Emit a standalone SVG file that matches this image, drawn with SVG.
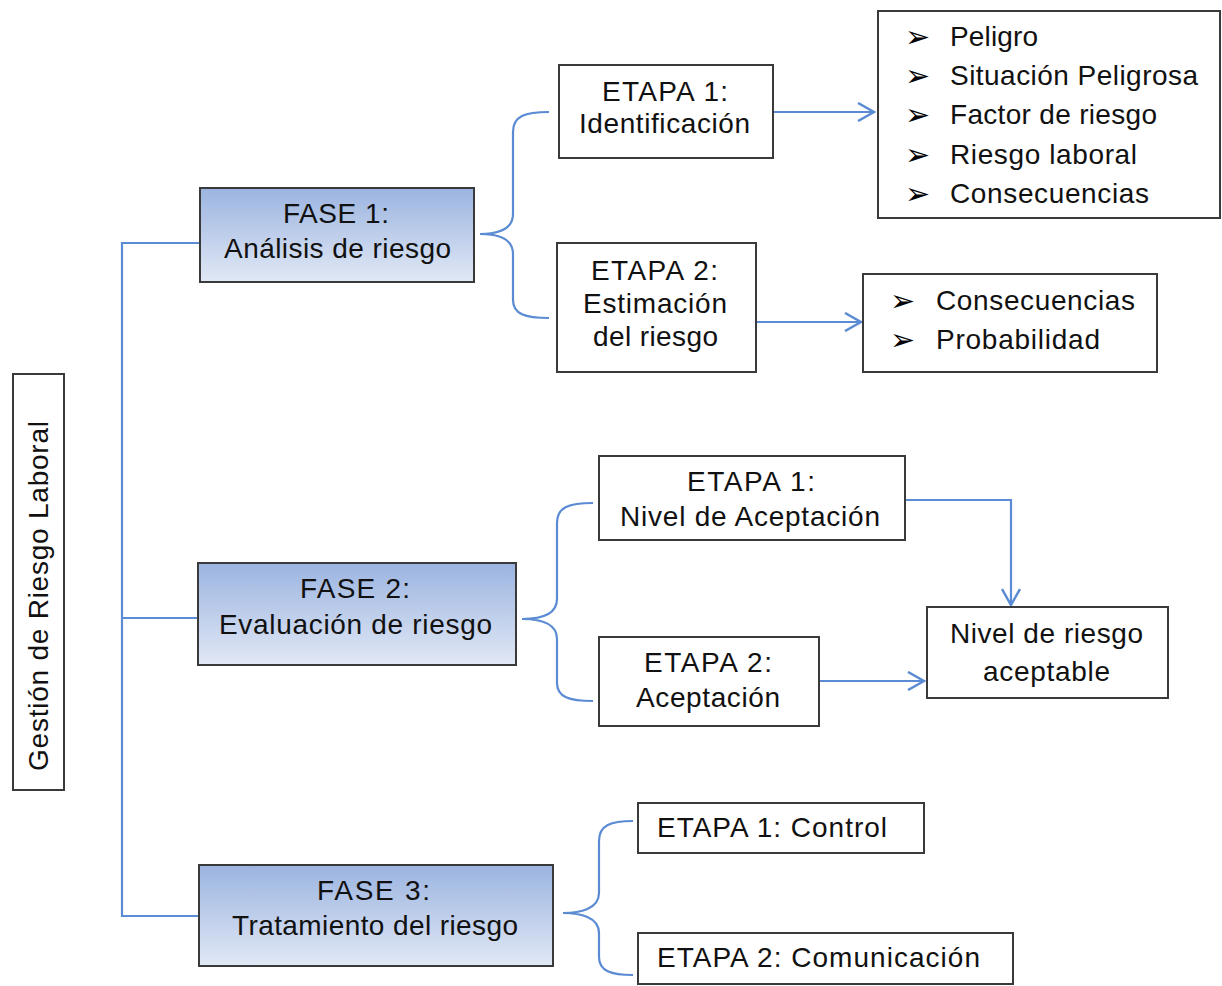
<svg xmlns="http://www.w3.org/2000/svg" width="1222" height="986" viewBox="0 0 1222 986">
<style>
text{font-family:"Liberation Sans",Arial,sans-serif;font-size:28px;fill:#111}
.c{text-anchor:middle}
.fase{stroke:#3a3a3a;stroke-width:2;fill:url(#g)}
.box{stroke:#3a3a3a;stroke-width:2;fill:#fff}
.ln{fill:none;stroke:#5b8bd3;stroke-width:2.2}
.bl{font-family:"DejaVu Sans",sans-serif;font-size:30px;fill:#000}
</style>
<defs>
<linearGradient id="g" x1="0" y1="0" x2="0" y2="1">
<stop offset="0" stop-color="#9bb4e0"/>
<stop offset="1" stop-color="#e1e8f5"/>
</linearGradient>
<marker id="ar" viewBox="0 0 20 20" refX="18" refY="10" markerUnits="userSpaceOnUse" markerWidth="20" markerHeight="20" orient="auto">
<path d="M2,1 L18,10 L2,19" fill="none" stroke="#5b8bd3" stroke-width="2.5"/>
</marker>
</defs>
<rect width="1222" height="986" fill="#fff"/>
<g id="connectors">
<path class="ln" d="M200,243 H122 V916 H200"/>
<path class="ln" d="M122,618 H198"/>
<path class="ln" d="M549,112 C525,112 513,116 513,132 L513,214 C513,230 496,234 480,234 C496,234 513,238 513,254 L513,300 C513,314 525,318 549,318"/>
<path class="ln" d="M593,503 C569,503 557,507 557,523 L557,599 C557,615 539,619 522,619 C539,619 557,623 557,639 L557,683 C557,697 569,701 593,701"/>
<path class="ln" d="M633,821 C611,821 599,825 599,841 L599,893 C599,909 580,913 563,913 C580,913 599,917 599,933 L599,957 C599,971 611,975 633,975"/>
<path class="ln" d="M774,112 H874" marker-end="url(#ar)"/>
<path class="ln" d="M757,322 H861" marker-end="url(#ar)"/>
<path class="ln" d="M905,500 H1011 V605" marker-end="url(#ar)"/>
<path class="ln" d="M819,681 H924" marker-end="url(#ar)"/>
</g>
<g id="root">
<rect class="box" x="13" y="374" width="51" height="416"/>
<text class="c" transform="translate(48,596) rotate(-90)" textLength="350" lengthAdjust="spacing">Gestión de Riesgo Laboral</text>
</g>
<g id="fase1">
<rect class="fase" x="200" y="188" width="274" height="94"/>
<text class="c" x="336" y="223" textLength="106" lengthAdjust="spacing">FASE 1:</text>
<text class="c" x="337.5" y="258" textLength="227" lengthAdjust="spacing">Análisis de riesgo</text>
</g>
<g id="f1e1">
<rect class="box" x="559" y="65" width="214" height="93"/>
<text class="c" x="665" y="101" textLength="126" lengthAdjust="spacing">ETAPA 1:</text>
<text class="c" x="664.5" y="133" textLength="171" lengthAdjust="spacing">Identificación</text>
</g>
<g id="f1e2">
<rect class="box" x="557" y="243" width="199" height="129"/>
<text class="c" x="654.5" y="280" textLength="127" lengthAdjust="spacing">ETAPA 2:</text>
<text class="c" x="655" y="313" textLength="144" lengthAdjust="spacing">Estimación</text>
<text class="c" x="655.5" y="346" textLength="125" lengthAdjust="spacing">del riesgo</text>
</g>
<g id="list1">
<rect class="box" x="878" y="11" width="342" height="207"/>
<text class="bl" x="905" y="47">➢</text>
<text class="bl" x="905" y="86">➢</text>
<text class="bl" x="905" y="125">➢</text>
<text class="bl" x="905" y="165">➢</text>
<text class="bl" x="905" y="204">➢</text>
<text x="950" y="46" textLength="88" lengthAdjust="spacing">Peligro</text>
<text x="950" y="85" textLength="248" lengthAdjust="spacing">Situación Peligrosa</text>
<text x="950" y="124" textLength="207" lengthAdjust="spacing">Factor de riesgo</text>
<text x="950" y="164" textLength="187" lengthAdjust="spacing">Riesgo laboral</text>
<text x="950" y="203" textLength="199" lengthAdjust="spacing">Consecuencias</text>
</g>
<g id="list2">
<rect class="box" x="863" y="274" width="294" height="98"/>
<text class="bl" x="890" y="311">➢</text>
<text class="bl" x="890" y="350">➢</text>
<text x="936" y="310" textLength="199" lengthAdjust="spacing">Consecuencias</text>
<text x="936" y="349" textLength="164" lengthAdjust="spacing">Probabilidad</text>
</g>
<g id="fase2">
<rect class="fase" x="198" y="563" width="318" height="102"/>
<text class="c" x="355" y="598" textLength="110" lengthAdjust="spacing">FASE 2:</text>
<text class="c" x="355.5" y="634" textLength="273" lengthAdjust="spacing">Evaluación de riesgo</text>
</g>
<g id="f2e1">
<rect class="box" x="599" y="456" width="306" height="84"/>
<text class="c" x="751" y="491" textLength="128" lengthAdjust="spacing">ETAPA 1:</text>
<text class="c" x="750" y="526" textLength="260" lengthAdjust="spacing">Nivel de Aceptación</text>
</g>
<g id="f2e2">
<rect class="box" x="599" y="637" width="220" height="89"/>
<text class="c" x="708" y="672" textLength="128" lengthAdjust="spacing">ETAPA 2:</text>
<text class="c" x="708" y="707" textLength="144" lengthAdjust="spacing">Aceptación</text>
</g>
<g id="nivel">
<rect class="box" x="927" y="607" width="241" height="91"/>
<text class="c" x="1046.5" y="643" textLength="193" lengthAdjust="spacing">Nivel de riesgo</text>
<text class="c" x="1046.5" y="681" textLength="127" lengthAdjust="spacing">aceptable</text>
</g>
<g id="fase3">
<rect class="fase" x="199" y="865" width="354" height="101"/>
<text class="c" x="373.5" y="900" textLength="113" lengthAdjust="spacing">FASE 3:</text>
<text class="c" x="375" y="935" textLength="286" lengthAdjust="spacing">Tratamiento del riesgo</text>
</g>
<g id="f3e1">
<rect class="box" x="638" y="803" width="286" height="50"/>
<text x="657" y="837" textLength="230" lengthAdjust="spacing">ETAPA 1: Control</text>
</g>
<g id="f3e2">
<rect class="box" x="638" y="933" width="375" height="51"/>
<text x="657" y="967" textLength="323" lengthAdjust="spacing">ETAPA 2: Comunicación</text>
</g>
</svg>
